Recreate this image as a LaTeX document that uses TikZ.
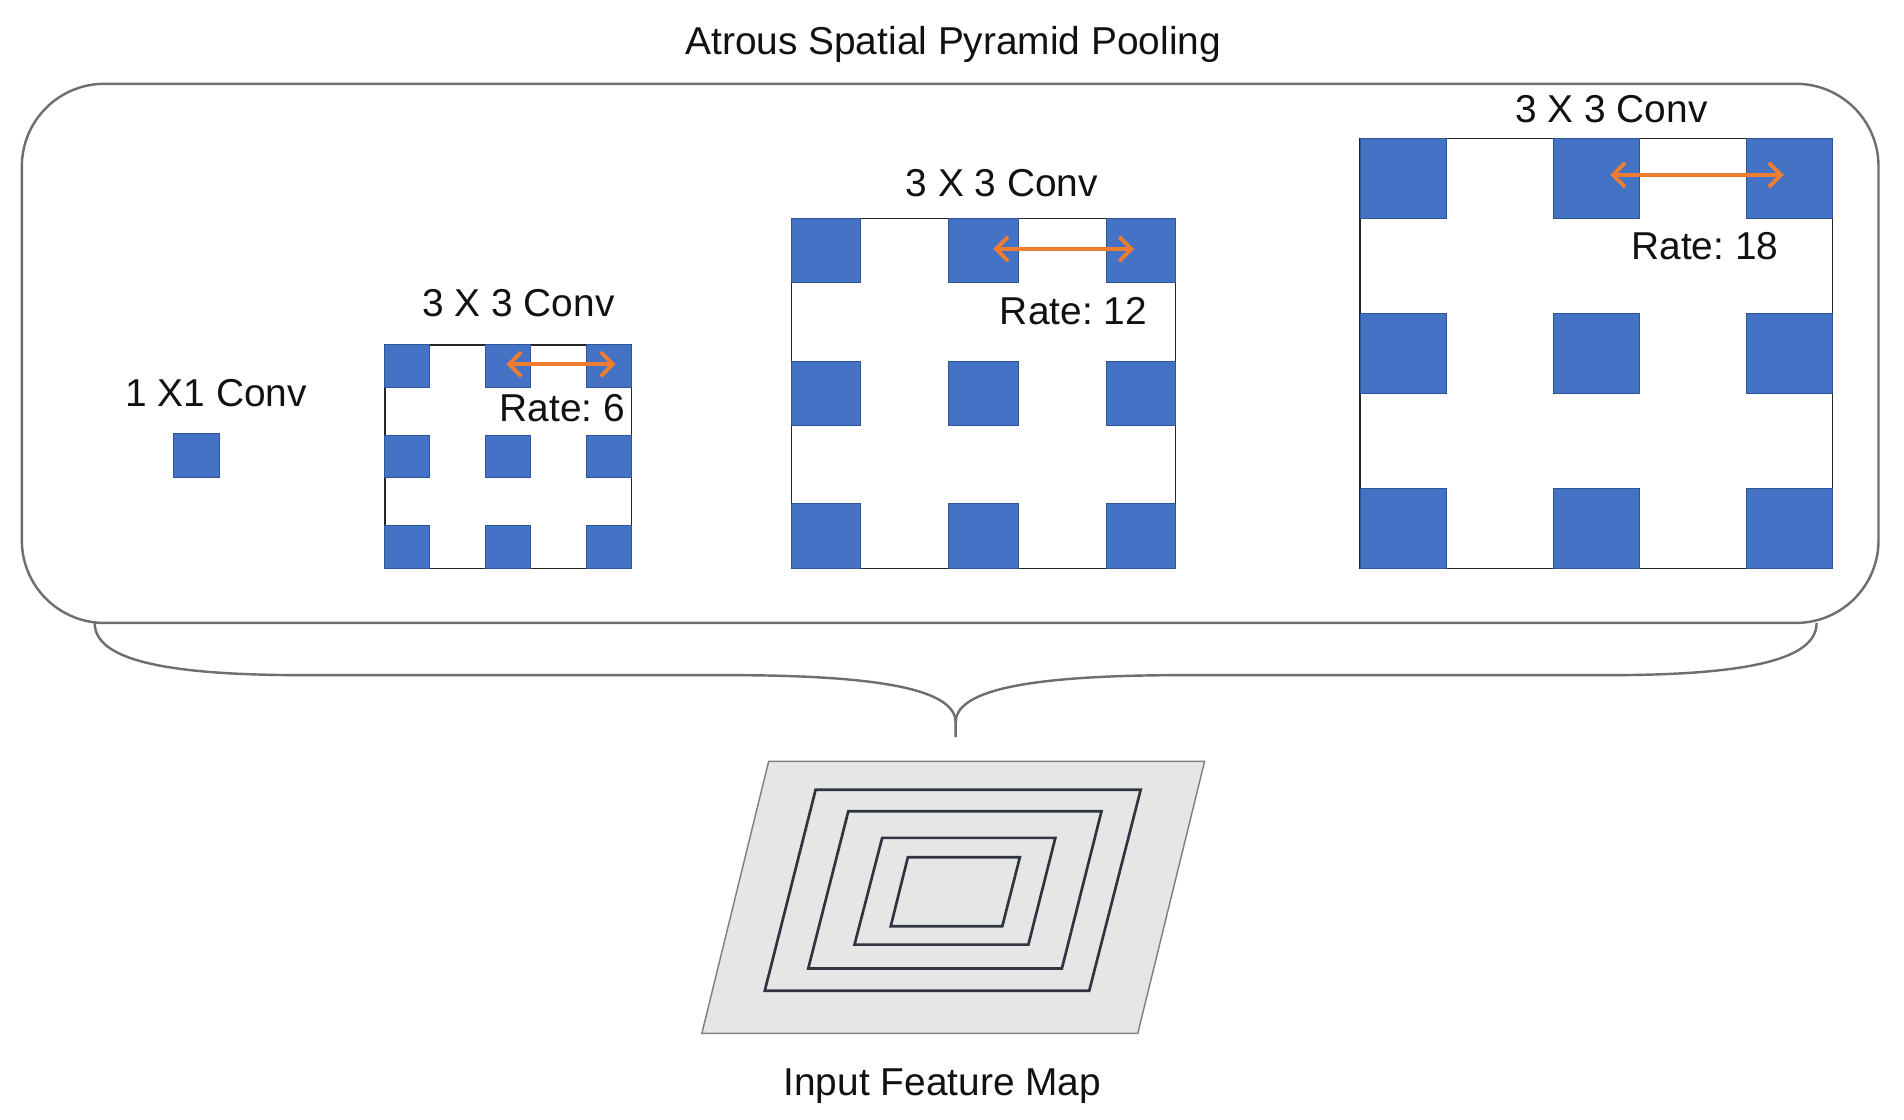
\documentclass[tikz,border=0pt]{standalone}
\usepackage{fontspec}
\setmainfont{Liberation Sans}
\usetikzlibrary{arrows.meta}
\definecolor{kblue}{HTML}{4472C4}
\definecolor{kbluedark}{HTML}{2F5597}
\definecolor{korange}{HTML}{ED7D31}
\definecolor{boxgray}{HTML}{6E6E6E}
\definecolor{mapfill}{HTML}{E6E6E6}
\definecolor{mapline}{HTML}{2E3440}
\definecolor{txt}{HTML}{111111}
\frenchspacing
\newcommand{\atrouskernel}[7]{%
  \node[kbox, minimum width=#4*0.5pt, minimum height=#5*0.5pt] (#1) at (#2,#3) {};
  \foreach \ci in {0,1,2}{\foreach \ri in {0,1,2}{%
    \path[sq] ({#2+\ci*(#4-#6)/2},{#3+\ri*(#5-#7)/2}) rectangle ++(#6,#7);}}%
}
\begin{document}
\begin{tikzpicture}[x=0.5pt,y=-0.5pt,
  font=\fontsize{16}{19}\selectfont\frenchspacing,
  lbl/.style={inner sep=0, outer sep=0, anchor=base, text=txt},
  kbox/.style={draw=black!85, line width=0.6pt, inner sep=0, outer sep=0, anchor=north west, fill=white},
  sq/.style={fill=kblue, draw=kbluedark, line width=0.4pt},
  rate/.style={draw=korange, line width=1.6pt, {Straight Barb[length=5pt,width=10pt]}-{Straight Barb[length=5pt,width=10pt]}},
  asppbox/.style={draw=boxgray, line width=1pt, rounded corners=34pt, inner sep=0, outer sep=0},
  bracestyle/.style={draw=boxgray, line width=1pt},
  fmap/.style={fill=mapfill, draw=black!50, line width=0.6pt},
  fring/.style={draw=mapline, line width=1.1pt}]
\useasboundingbox (0,0) rectangle (1568,922);

% title
\node[lbl] (title) at (785,44.5) {Atrous Spatial Pyramid Pooling};

% ASPP rounded box
\node[asppbox, minimum width=764.5pt, minimum height=222pt] (aspp) at (782.5,291) {};

% 1x1 conv
\node[sq, inner sep=0, outer sep=0, minimum width=19pt, minimum height=18pt, anchor=north west] (one) at (143,357) {};
\node[lbl] (l1) at (178,334.5) {1 X1 Conv};

% kernels
\atrouskernel{k1}{317}{284}{203}{184}{37}{35}
\atrouskernel{k2}{652}{180}{316}{288}{57}{53}
\atrouskernel{k3}{1120}{114}{389}{354}{71}{66}

\node[lbl] (l3a) at (427,260.5) {3 X 3 Conv};
\node[lbl] (l3b) at (825,161.5) {3 X 3 Conv};
\node[lbl] (l3c) at (1327,100.5) {3 X 3 Conv};
\node[lbl] (r6) at (463,347.5) {Rate: 6};
\node[lbl] (r12) at (884,267.5) {Rate: 12};
\node[lbl] (r18) at (1404,213.5) {Rate: 18};

% rate arrows
\coordinate (a1l) at (417,300); \coordinate (a1r) at (507,300);
\coordinate (a2l) at (818,205); \coordinate (a2r) at (934,205);
\coordinate (a3l) at (1326,144); \coordinate (a3r) at (1469,144);
\draw[rate] (a1l) -- (a1r);
\draw[rate] (a2l) -- (a2r);
\draw[rate] (a3l) -- (a3r);

% brace
\coordinate (bl) at (78,513);
\coordinate (br) at (1496,513);
\coordinate (bmid) at (787,595);
\coordinate (btip) at (787,607);
\draw[bracestyle] (bl) .. controls (78,542) and (130,556) .. (250,556) -- (600,556)
   .. controls (735,556) and (787,570) .. (bmid) -- (btip);
\draw[bracestyle] (bmid) .. controls (787,570) and (839,556) .. (974,556) -- (1324,556)
   .. controls (1444,556) and (1496,542) .. (br);

% input feature map
\path[fmap] (633,627) -- (992,627) -- (937,851) -- (578,851) -- cycle;
\path[fring] (671.7,650.3) -- (939.4,650.3) -- (897,815.9) -- (629.8,815.9) -- cycle;
\path[fring] (698.6,668.1) -- (907.1,668.1) -- (874.5,797.6) -- (665.6,797.6) -- cycle;
\path[fring] (726.5,690) -- (869.1,690) -- (846.9,777.9) -- (703.7,777.9) -- cycle;
\path[fring] (747.7,705.9) -- (839.9,705.9) -- (825.4,762.8) -- (733.5,762.8) -- cycle;
\node[lbl] (ifm) at (776,902) {Input Feature Map};
\end{tikzpicture}
\end{document}
